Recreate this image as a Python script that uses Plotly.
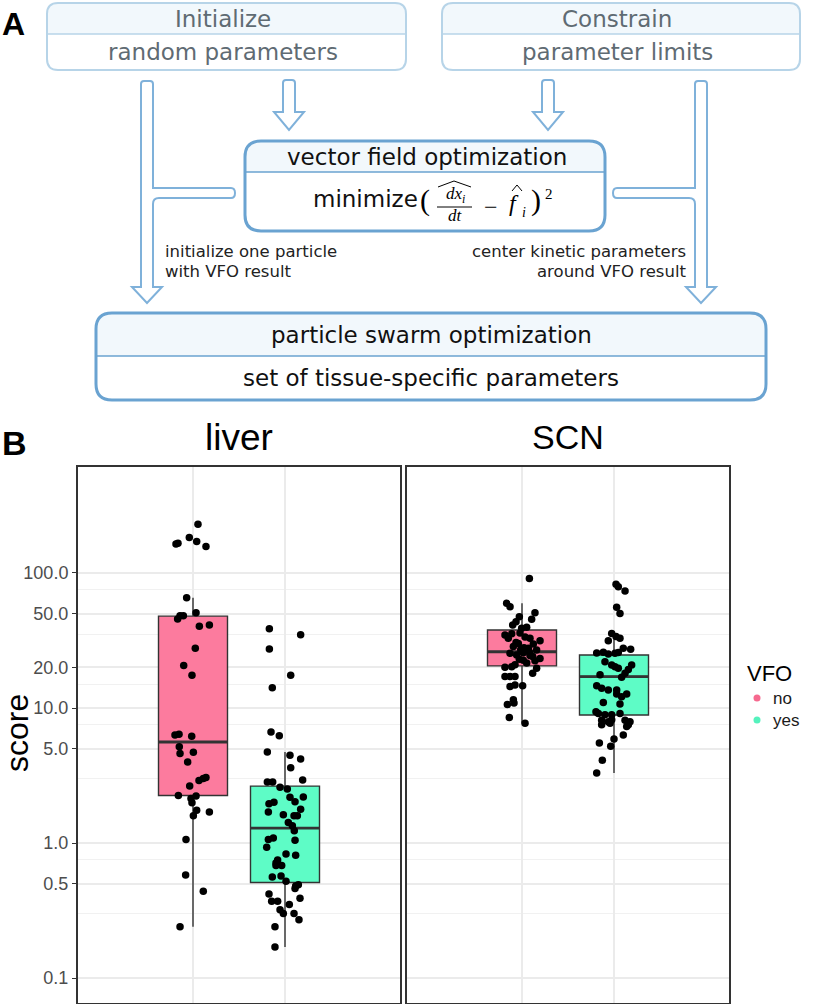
import plotly.graph_objects as go

# ---------------- data ----------------
tissues = ["liver", "SCN"]
vfo_levels = ["no", "yes"]
vfo_positions = [0, 1]

tick_vals = [0.1, 0.5, 1, 5, 10, 20, 50, 100]
tick_text = ["0.1", "0.5", "1.0", "5.0", "10.0", "20.0", "50.0", "100.0"]
minor_vals = [0.3, 0.75, 3, 7.5, 15, 35, 75]

# box statistics (no, yes)
liver_lower = [0.24, 0.17]
liver_q1 = [2.25, 0.51]
liver_median = [5.6, 1.29]
liver_q3 = [47.9, 2.64]
liver_upper = [65.6, 4.72]

scn_lower = [7.7, 3.3]
scn_q1 = [20.5, 8.87]
scn_median = [26.1, 17.1]
scn_q3 = [37.8, 24.7]
scn_upper = [59.7, 35.7]

# individual scores and their horizontal jitter (category units)
liver_no_score = [230, 183, 171, 164, 166, 157, 65.6, 50.8, 48.3, 48.3, 45.6, 40.4, 41.2,
                  27.7, 20.6, 17.5, 6.31, 6.4, 6.17, 5.16, 4.61, 4.7, 3.98, 2.9, 3.0, 3.05,
                  2.64, 2.25, 2.23, 2.14, 1.99, 1.75, 1.70, 1.59, 1.06, 0.58, 0.44, 0.24]
liver_no_jitter = [0.054, -0.04, 0.04, -0.185, -0.163, 0.141, -0.069, 0.033, -0.141, -0.105,
                   -0.167, 0.069, 0.178, 0.025, -0.101, -0.011, -0.196, -0.152, -0.014, -0.149,
                   -0.141, 0.004, -0.058, 0.065, 0.112, 0.141, -0.036, -0.159, 0.033, -0.022,
                   -0.011, 0.04, 0.178, 0.004, -0.076, -0.08, 0.112, -0.141]

liver_yes_score = [38.6, 34.9, 27.4, 17.5, 14.1, 6.64, 6.24, 4.72, 4.47, 4.19, 3.61, 2.93,
                   2.83, 2.83, 2.59, 2.51, 2.18, 2.19, 2.02, 2.0, 1.95, 1.78, 1.70, 1.62,
                   1.59, 1.59, 1.42, 1.34, 1.23, 1.09, 1.06, 1.05, 0.93, 0.83, 0.81, 0.75,
                   0.71, 0.68, 0.68, 0.56, 0.57, 0.52, 0.49, 0.48, 0.46, 0.42, 0.39, 0.37,
                   0.37, 0.35, 0.32, 0.30, 0.30, 0.27, 0.24, 0.17]
liver_yes_jitter = [-0.17, 0.17, -0.17, 0.062, -0.138, -0.152, -0.062, -0.192, 0.054, 0.17,
                    0.062, 0.192, -0.192, -0.134, -0.054, 0.025, 0.054, 0.199, 0.109, -0.12,
                    -0.174, 0.17, -0.181, -0.018, 0.098, 0.134, 0.036, 0.08, 0.101, -0.127,
                    -0.181, 0.109, -0.199, 0.011, 0.116, -0.08, -0.098, -0.036, -0.098, -0.138,
                    -0.043, 0.011, 0.145, 0.116, 0.109, -0.174, 0.163, -0.145, -0.08, 0.047,
                    -0.054, -0.018, 0.098, 0.152, -0.109, -0.109]

scn_no_score = [91, 59.7, 56.2, 50.8, 47.5, 45.4, 43.6, 41.2, 38.9, 39.6, 34.8, 32.8, 32.8,
                31.5, 30.1, 28.5, 29.8, 27.7, 25.4, 24.7, 25.7, 26.9, 24.1, 23.3, 22.4, 20.9,
                22.6, 20.0, 20.2, 19.7, 18.1, 17.1, 17.1, 17.1, 14.4, 14.8, 14.6, 11.5, 10.9,
                10.6, 8.5, 7.7, 36.0, 33.5, 27.0, 26.0, 23.0, 21.5, 30.5, 35.5, 28.0, 24.5]
scn_no_jitter = [0.08, -0.167, -0.13, 0.141, -0.029, 0.105, -0.065, -0.101, -0.004, 0.051,
                 -0.185, -0.149, 0.087, 0.196, -0.04, -0.094, 0.123, 0.069, -0.13, -0.058,
                 0.014, 0.159, 0.116, 0.196, 0.141, -0.076, 0.014, -0.185, -0.112, 0.159,
                 0.116, -0.185, -0.13, -0.076, -0.13, -0.076, 0.007, -0.094, -0.087, -0.159,
                 -0.138, 0.033, -0.022, 0.033, -0.014, 0.08, -0.029, 0.051, -0.065, -0.112,
                 0.022, 0.087]

scn_yes_score = [82.4, 79.2, 73.6, 55.7, 50.2, 35.7, 33.8, 32.8, 31.5, 27.7, 27.2, 25.5, 25.9,
                 25.1, 25.4, 25.8, 20.8, 19.3, 22.0, 20.8, 20.2, 19.7, 18.1, 16.9, 17.6, 14.6,
                 14.0, 13.6, 13.6, 12.7, 12.7, 12.1, 11.0, 10.7, 9.4, 9.1, 8.9, 8.9, 9.1, 8.1,
                 7.9, 8.2, 8.1, 7.9, 7.5, 7.7, 7.5, 7.3, 6.3, 5.9, 5.5, 5.2, 4.1, 3.3]
scn_yes_jitter = [0.022, 0.047, 0.12, 0.029, 0.065, -0.025, 0.022, 0.065, -0.062, 0.101, 0.181,
                  -0.188, -0.116, -0.062, 0.011, 0.047, 0.192, 0.156, -0.098, -0.025, 0.011,
                  0.047, 0.12, 0.083, -0.152, -0.188, -0.134, -0.062, 0.029, 0.029, 0.138,
                  0.083, -0.116, 0.065, -0.196, -0.17, -0.098, -0.025, 0.065, -0.134, -0.062,
                  -0.025, 0.12, 0.174, -0.134, -0.043, 0.156, 0.138, 0.101, 0.0, -0.159,
                  -0.036, -0.127, -0.188]

# ---------------- styling ----------------
W, H = 813, 1004
box_fill = ["#fc7b9e", "#5efcc6"]
legend_dot = ["#f6698f", "#55f2bd"]
box_width = 0.75
dark = "#333333"
grid = "#ebebeb"
blue_light = "#b7d4e8"
blue_mid = "#7fb1da"
blue_dark = "#6aa3d1"
fill_light = "#f2f8fc"


def X(x):
    return x / W


def Y(y):
    return 1 - y / H


def P(x, y):
    return f"{X(x):.5f},{Y(y):.5f}"


def rrect(x0, y0, x1, y1, r):
    return (f"M{P(x0 + r, y0)} L{P(x1 - r, y0)} Q{P(x1, y0)} {P(x1, y0 + r)} "
            f"L{P(x1, y1 - r)} Q{P(x1, y1)} {P(x1 - r, y1)} L{P(x0 + r, y1)} "
            f"Q{P(x0, y1)} {P(x0, y1 - r)} L{P(x0, y0 + r)} Q{P(x0, y0)} {P(x0 + r, y0)} Z")


def top_half(x0, y0, x1, yd, r):
    return (f"M{P(x0, yd)} L{P(x0, y0 + r)} Q{P(x0, y0)} {P(x0 + r, y0)} "
            f"L{P(x1 - r, y0)} Q{P(x1, y0)} {P(x1, y0 + r)} L{P(x1, yd)} Z")


shapes = []
annotations = []


def text(s, x, y, size, color="#000000", family="DejaVu Sans", xanchor="center",
         yanchor="middle", angle=0):
    annotations.append(dict(text=s, x=X(x), y=Y(y), xref="paper", yref="paper",
                            showarrow=False, xanchor=xanchor, yanchor=yanchor,
                            textangle=angle, font=dict(size=size, color=color, family=family)))


def boxnode(x0, y0, x1, y1, yd, color, width, r=11):
    shapes.append(dict(type="path", path=top_half(x0, y0, x1, yd, r), xref="paper",
                       yref="paper", fillcolor=fill_light, line=dict(width=0), layer="below"))
    shapes.append(dict(type="line", x0=X(x0), x1=X(x1), y0=Y(yd), y1=Y(yd), xref="paper",
                       yref="paper", line=dict(color=color, width=1.5)))
    shapes.append(dict(type="path", path=rrect(x0, y0, x1, y1, r), xref="paper",
                       yref="paper", line=dict(color=color, width=width)))


def path_shape(pts_path, color=blue_mid, width=2):
    shapes.append(dict(type="path", path=pts_path, xref="paper", yref="paper",
                       line=dict(color=color, width=width)))


def short_arrow(cx, y0, yb, yt):
    p = (f"M{P(cx - 6, yb)} L{P(cx - 6, y0 + 3)} Q{P(cx - 6, y0)} {P(cx - 3, y0)} "
         f"L{P(cx + 3, y0)} Q{P(cx + 6, y0)} {P(cx + 6, y0 + 3)} L{P(cx + 6, yb)} "
         f"L{P(cx + 15, yb)} L{P(cx, yt)} L{P(cx - 15, yb)} Z")
    path_shape(p)


def long_arrow(s):
    # s = +1 for left arrow, -1 for mirrored right arrow
    def m(x):
        return x if s > 0 else 848 - x
    pts = [
        ("M", [(m(141), 287)]),
        ("L", [(m(141), 84)]),
        ("Q", [(m(141), 81), (m(144), 81)]),
        ("L", [(m(150), 81)]),
        ("Q", [(m(153), 81), (m(153), 84)]),
        ("L", [(m(153), 188)]),
        ("L", [(m(231), 188)]),
        ("Q", [(m(235), 188), (m(235), 193)]),
        ("Q", [(m(235), 198), (m(231), 198)]),
        ("L", [(m(159), 198)]),
        ("Q", [(m(153), 198), (m(153), 204)]),
        ("L", [(m(153), 287)]),
        ("L", [(m(162), 287)]),
        ("L", [(m(147), 303)]),
        ("L", [(m(132), 287)]),
    ]
    p = " ".join(c + " ".join(P(a, b) for a, b in xy) for c, xy in pts) + " Z"
    path_shape(p)


# ---------------- panel A diagram ----------------
text("<b>A</b>", 0, 24, 32, family="Liberation Sans", xanchor="left")

boxnode(47, 3, 406, 70, 34, blue_light, 2)
boxnode(442, 3, 800, 70, 34, blue_light, 2)
text("Initialize", 223, 19, 23, color="#5f6b73")
text("random parameters", 223, 52, 23, color="#5f6b73")
text("Constrain", 617, 19, 23, color="#5f6b73")
text("parameter limits", 617, 52, 23, color="#5f6b73")

short_arrow(289, 80, 112, 130)
short_arrow(548, 80, 112, 130)
long_arrow(1)
long_arrow(-1)

boxnode(245, 141, 605, 231, 172, blue_dark, 3, r=16)
text("vector field optimization", 427, 157, 23, color="#111111")
text("minimize", 311, 199, 23, color="#111111", xanchor="left")
# formula  ( d̂x_i/dt − f̂_i )²
text("(", 425, 200, 30, family="Liberation Serif")
text("<i>dx</i><sub><i>i</i></sub>", 455, 195, 17, family="Liberation Serif")
shapes.append(dict(type="path", path=f"M{P(438, 187)} L{P(454, 181)} L{P(471, 187)}",
                   xref="paper", yref="paper", line=dict(color="#000", width=1)))
shapes.append(dict(type="line", x0=X(437), x1=X(472), y0=Y(207), y1=Y(207),
                   xref="paper", yref="paper", line=dict(color="#000", width=1)))
text("<i>dt</i>", 456, 215, 17, family="Liberation Serif")
text("−", 491, 207, 24, family="Liberation Serif")
text("<i>f</i>", 514, 203, 24, family="Liberation Serif")
shapes.append(dict(type="path", path=f"M{P(512, 191)} L{P(517, 185)} L{P(522, 191)}",
                   xref="paper", yref="paper", line=dict(color="#000", width=1)))
text("<i>i</i>", 524, 212, 14, family="Liberation Serif")
text(")", 536, 200, 30, family="Liberation Serif")
text("2", 549, 194, 15, family="Liberation Serif")

text("initialize one particle", 163, 251, 16.5, color="#222222", xanchor="left")
text("with VFO result", 163, 271, 16.5, color="#222222", xanchor="left")
text("center kinetic parameters", 688, 251, 16.5, color="#222222", xanchor="right")
text("around VFO result", 688, 271, 16.5, color="#222222", xanchor="right")

boxnode(96, 313, 766, 400, 356, blue_dark, 3, r=16)
text("particle swarm optimization", 431, 335, 23, color="#111111")
text("set of tissue-specific parameters", 431, 378, 23, color="#111111")

# ---------------- panel B ----------------
text("<b>B</b>", 0, 443, 34, family="Liberation Sans", xanchor="left")
text("liver", 239, 437, 37, family="Liberation Sans")
text("SCN", 568, 437, 34, family="Liberation Sans")
text("score", 17, 733, 32, family="Liberation Sans", angle=-90)

# legend
text("VFO", 745, 673, 22, family="Liberation Sans", xanchor="left")
for i, lab in enumerate(vfo_levels):
    yy = 698 + 22 * i
    shapes.append(dict(type="circle", xref="paper", yref="paper", x0=X(753.5), x1=X(760.5),
                       y0=Y(yy + 3.5), y1=Y(yy - 3.5), fillcolor=legend_dot[i],
                       line=dict(width=0)))
    text(lab, 771, yy, 17, color="#1a1a1a", family="Liberation Sans", xanchor="left")

fig = go.Figure()

groups = [
    ("x", "y", liver_lower, liver_q1, liver_median, liver_q3, liver_upper,
     [(liver_no_score, liver_no_jitter), (liver_yes_score, liver_yes_jitter)]),
    ("x2", "y2", scn_lower, scn_q1, scn_median, scn_q3, scn_upper,
     [(scn_no_score, scn_no_jitter), (scn_yes_score, scn_yes_jitter)]),
]

for xa, ya, lo, q1, med, q3, hi, pts in groups:
    for k, pos in enumerate(vfo_positions):
        fig.add_trace(go.Box(x=[pos], q1=[q1[k]], median=[med[k]], q3=[q3[k]],
                             lowerfence=[lo[k]], upperfence=[hi[k]], width=box_width,
                             fillcolor=box_fill[k], line=dict(color=dark, width=1.4),
                             whiskerwidth=0, boxpoints=False, xaxis=xa, yaxis=ya,
                             showlegend=False, hoverinfo="skip"))
        fig.add_trace(go.Scatter(x=[pos - box_width / 2, pos + box_width / 2],
                                 y=[med[k], med[k]], mode="lines",
                                 line=dict(color=dark, width=2.8), xaxis=xa, yaxis=ya,
                                 showlegend=False, hoverinfo="skip"))
        sc, jt = pts[k]
        fig.add_trace(go.Scatter(x=[pos + j for j in jt], y=sc, mode="markers",
                                 marker=dict(color="black", size=7.5, line=dict(width=0)),
                                 xaxis=xa, yaxis=ya, showlegend=False))

xcommon = dict(range=[-1.25, 2.25], tickvals=vfo_positions, showticklabels=False, ticks="",
               showgrid=True, gridcolor=grid, gridwidth=1.6, zeroline=False, showline=True,
               mirror=True, linecolor=dark, linewidth=2)
ycommon = dict(type="log", range=[-1.185, 2.785], tickvals=tick_vals, ticktext=tick_text,
               showgrid=True, gridcolor=grid, gridwidth=1.6, zeroline=False, showline=True,
               mirror=True, linecolor=dark, linewidth=2,
               minor=dict(tickmode="array", tickvals=minor_vals, showgrid=True,
                          gridcolor="#f1f1f1", gridwidth=1, ticks=""),
               domain=[Y(1003), Y(467)])

fig.update_layout(
    width=W, height=H, margin=dict(l=0, r=0, t=0, b=0),
    paper_bgcolor="white", plot_bgcolor="white", showlegend=False,
    xaxis=dict(domain=[X(78), X(400)], anchor="y", **xcommon),
    xaxis2=dict(domain=[X(407), X(729)], anchor="y2", **xcommon),
    yaxis=dict(anchor="x", ticks="outside", ticklen=4, tickwidth=1.2, tickcolor=dark,
               tickfont=dict(size=18, color="#4d4d4d", family="Liberation Sans"), **ycommon),
    yaxis2=dict(anchor="x2", showticklabels=False, ticks="", **ycommon),
    shapes=shapes, annotations=annotations,
)

fig.write_html("out.html", config={"displayModeBar": False},
               post_script="document.body.style.margin='0px';document.body.style.overflow='hidden';")
